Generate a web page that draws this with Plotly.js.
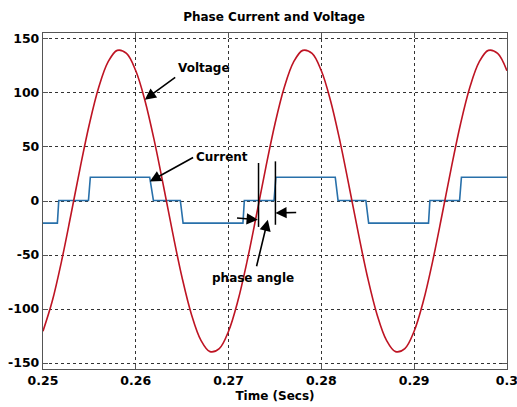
<!DOCTYPE html>
<html>
<head>
<meta charset="utf-8">
<script src="https://cdn.plot.ly/plotly-3.0.1.min.js"></script>
<style>html,body{margin:0;padding:0;background:#fff;}#chart{width:517px;height:407px;}</style>
</head>
<body>
<div id="chart"></div>
<script>
// Voltage samples (time in seconds, volts)
var voltageTime = [0.250,0.251,0.252,0.253,0.254,0.255,0.256,0.257,0.258,0.259,
                   0.260,0.261,0.262,0.263,0.264,0.265,0.266,0.267,0.268,0.269,
                   0.270,0.271,0.272,0.273,0.274,0.275,0.276,0.277,0.278,0.279,
                   0.280,0.281,0.282,0.283,0.284,0.285,0.286,0.287,0.288,0.289,
                   0.290,0.291,0.292,0.293,0.294,0.295,0.296,0.297,0.298,0.299,0.300];
var voltageValues = [-120.5,-92.6,-55.6,-13.2,30.5,71.3,105.0,128.5,139.4,136.6,
                     120.5,92.6,55.6,13.2,-30.5,-71.3,-105.0,-128.5,-139.4,-136.6,
                     -120.5,-92.6,-55.6,-13.2,30.5,71.3,105.0,128.5,139.4,136.6,
                     120.5,92.6,55.6,13.2,-30.5,-71.3,-105.0,-128.5,-139.4,-136.6,
                     -120.5,-92.6,-55.6,-13.2,30.5,71.3,105.0,128.5,139.4,136.6,120.5];
// Current samples (stepped waveform)
var currentTime = [0.25,0.25155,0.25170,0.2549,0.2551,0.2615,0.2619,0.2648,0.2651,
                   0.27155,0.2717,0.2749,0.2751,0.2815,0.2818,0.2848,0.2851,
                   0.29155,0.2917,0.2949,0.2951,0.3];
var currentValues = [-20.5,-20.5,0.5,0.5,22,22,0.5,0.5,-20.5,
                     -20.5,0.5,0.5,22,22,0.5,0.5,-20.5,
                     -20.5,0.5,0.5,22,22];
var xTicks = [0.25,0.26,0.27,0.28,0.29,0.3];
var xTickLabels = ['0.25','0.26','0.27','0.28','0.29','0.3'];
var yTicks = [-150,-100,-50,0,50,100,150];
var yTickLabels = ['-150','-100','-50','0','50','100','150'];

var F = 'DejaVu Sans, Verdana, sans-serif';

var traces = [
  {x: currentTime, y: currentValues, type:'scatter', mode:'lines',
   line:{color:'rgb(40,112,170)', width:1.6}, hoverinfo:'skip', cliponaxis:false},
  {x: voltageTime, y: voltageValues, type:'scatter', mode:'lines',
   line:{color:'rgb(190,20,35)', width:1.6, shape:'spline'}, hoverinfo:'skip'}
];

function arrow(x, y, ax, ay){
  return {x:x, y:y, ax:ax, ay:ay, xref:'x', yref:'y', axref:'x', ayref:'y',
          text:'', showarrow:true, arrowhead:2, arrowsize:1.4, arrowwidth:1.6, arrowcolor:'#000'};
}
function label(x, y, t){
  return {x:x, y:y, xref:'x', yref:'y', text:t, showarrow:false,
          font:{family:F, size:12, color:'#000', weight:'bold'}};
}

var layout = {
  width:517, height:407,
  margin:{l:43, r:10, t:33, b:38},
  paper_bgcolor:'#fff', plot_bgcolor:'#fff',
  showlegend:false,
  title:{text:'Phase Current and Voltage', x:0.53, xanchor:'center', y:0.958, yref:'container', yanchor:'middle',
         font:{family:F, size:12, color:'#000', weight:'bold'}},
  xaxis:{range:[0.25,0.30001], tickvals:xTicks, ticktext:xTickLabels, ticklabeloverflow:'allow',
         showgrid:true, gridcolor:'#333', griddash:'dot', gridwidth:1,
         zeroline:false, showline:true, linecolor:'#555', linewidth:1.2, mirror:'ticks',
         ticks:'inside', ticklen:5, tickcolor:'#555',
         tickfont:{family:F, size:12.5, color:'#000', weight:'bold'},
         title:{text:'Time (Secs)', standoff:4, font:{family:F, size:12, color:'#000', weight:'bold'}}},
  yaxis:{range:[-155.5,155.5], tickvals:yTicks, ticktext:yTickLabels,
         showgrid:true, gridcolor:'#333', griddash:'dot', gridwidth:1,
         zeroline:false, showline:true, linecolor:'#555', linewidth:1.2, mirror:'ticks',
         ticks:'inside', ticklen:5, tickcolor:'#555',
         tickfont:{family:F, size:12.5, color:'#000', weight:'bold'}},
  shapes:[
    {type:'line', xref:'x', yref:'y', x0:0.27323, x1:0.27323, y0:35.2, y1:-24, line:{color:'#000', width:1.5}},
    {type:'line', xref:'x', yref:'y', x0:0.27505, x1:0.27505, y0:36.7, y1:-22, line:{color:'#000', width:1.5}}
  ],
  annotations:[
    label(0.26731, 123.4, 'Voltage'),
    arrow(0.26097, 93.8, 0.26441, 115.4),
    label(0.26925, 41, 'Current'),
    arrow(0.26151, 18.1, 0.26634, 41),
    arrow(0.27315, -17.3, 0.27075, -15.7),
    arrow(0.27505, -11.1, 0.27745, -10.6),
    arrow(0.27423, -17.3, 0.27298, -61.8),
    label(0.27258, -71, 'phase angle')
  ]
};

Plotly.newPlot('chart', traces, layout, {staticPlot:true, displayModeBar:false});
</script>
</body>
</html>
